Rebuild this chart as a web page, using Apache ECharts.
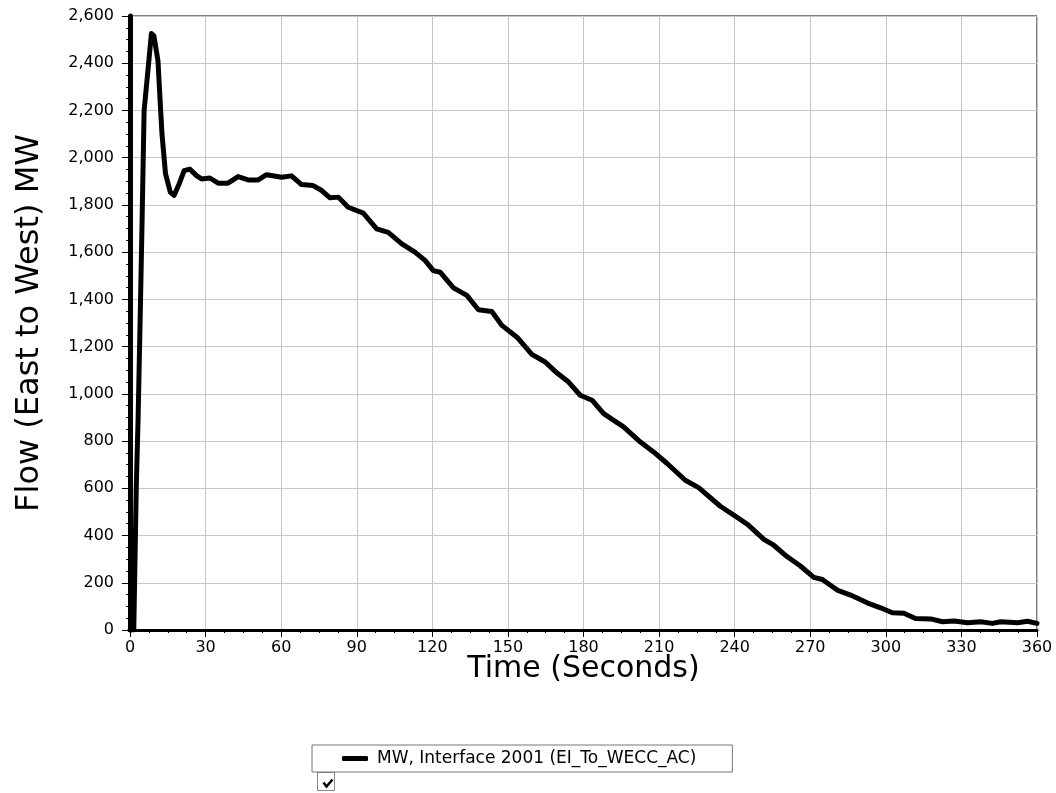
<!DOCTYPE html>
<html>
<head>
<meta charset="utf-8">
<script src="https://cdn.jsdelivr.net/npm/echarts@6/dist/echarts.min.js"></script>
<style>
  html, body { margin: 0; padding: 0; background: #fff; }
  #main { width: 1056px; height: 793px; }
</style>
</head>
<body>
<div id="main"></div>
<script>
// time in seconds, flow in MW
var times = [0, 1.5, 2.5, 3.2, 4.1, 4.8, 5.6, 8.5, 9.5, 11.1, 12.1, 12.7, 14.1, 16.0, 17.5, 19.5,
  21.5, 23.7, 26.4, 28.4, 31.7, 35, 38.9, 42.9, 46.9, 50.9, 54.2, 60.2, 64.1, 68.1, 72.7, 76.1,
  79.4, 82.7, 86.6, 92.6, 97.9, 102.5, 107.9, 113.1, 117.1, 120.4, 123.1, 128.4, 133.7, 138.3,
  143.6, 147.6, 153.6, 159.5, 164.8, 169.5, 174.1, 178.7, 183.4, 188, 195.9, 202.6, 207.8,
  213.2, 220.4, 225.7, 234.3, 241, 245, 251.6, 255.5, 260.9, 266.1, 271.4, 274.8, 280.7, 286,
  292.6, 297.9, 302.6, 307.2, 311.8, 317.8, 322.5, 327.1, 332.4, 337.7, 342.3, 345.6, 352.3,
  356.2, 360];
var flowMW = [0, 0, 613, 888, 1353, 1734, 2199, 2526, 2516, 2410, 2213, 2100, 1931, 1854, 1840, 1889,
  1945, 1952, 1924, 1910, 1914, 1892, 1892, 1920, 1906, 1906, 1928, 1917, 1923, 1886, 1882, 1861,
  1830, 1833, 1790, 1765, 1699, 1684, 1635, 1600, 1565, 1522, 1515, 1449, 1417, 1356,
  1349, 1290, 1240, 1167, 1135, 1088, 1050, 994, 973, 916, 860, 796, 754,
  705, 634, 603, 524, 477, 448, 384, 359, 310, 271, 223, 214, 169, 148,
  115, 94, 73, 71, 49, 47, 35, 38, 31, 35, 28, 35, 31,
  37, 28];
var seriesName = 'MW, Interface 2001 (EI_To_WECC_AC)';

var chart = echarts.init(document.getElementById('main'));
var font = 'DejaVu Sans';

var option = {
  backgroundColor: '#fff',
  animation: false,
  grid: {
    left: 130, right: 19, top: 16, bottom: 163,
    show: true, borderColor: '#000', borderWidth: 1
  },
  legend: {
    data: [seriesName],
    left: 312, top: 745,
    padding: [5, 36, 5, 30],
    borderColor: '#777', borderWidth: 1,
    icon: 'roundRect', itemWidth: 26, itemHeight: 5,
    selectedMode: false,
    textStyle: { fontFamily: font, fontSize: 17, color: '#000', padding: [0, 0, 0, 4] }
  },
  xAxis: {
    type: 'value', min: 0, max: 360, interval: 30,
    name: 'Time (Seconds)', nameLocation: 'middle', nameGap: 24,
    nameMoveOverlap: false,
    nameTextStyle: { fontFamily: font, fontSize: 30, color: '#000' },
    axisLine: { show: true, onZero: false, lineStyle: { color: '#000', width: 3 } },
    axisTick: { show: true, length: 7, lineStyle: { color: '#000' } },
    minorTick: { show: true, splitNumber: 4, length: 3, lineStyle: { color: '#000' } },
    axisLabel: { fontFamily: font, fontSize: 16, color: '#000', margin: 10 },
    splitLine: { show: true, lineStyle: { color: '#c8c8c8', width: 1 } }
  },
  yAxis: {
    type: 'value', min: 0, max: 2600, interval: 200,
    name: 'Flow (East to West) MW', nameLocation: 'middle', nameGap: 84,
    nameTextStyle: { fontFamily: font, fontSize: 32, color: '#000' },
    axisLine: { show: true, onZero: false, lineStyle: { color: '#000', width: 5 } },
    axisTick: { show: true, length: 8, lineStyle: { color: '#000' } },
    minorTick: { show: true, splitNumber: 4, length: 4, lineStyle: { color: '#000' } },
    axisLabel: {
      fontFamily: font, fontSize: 16, color: '#000', margin: 16,
      formatter: function (v) { return v.toLocaleString('en-US'); }
    },
    splitLine: { show: true, lineStyle: { color: '#c8c8c8', width: 1 } }
  },
  graphic: [
    { type: 'rect', left: 317, top: 772, shape: { width: 17, height: 18 },
      style: { fill: '#fff', stroke: '#888', lineWidth: 1 } },
    { type: 'polyline', left: 321, top: 777,
      shape: { points: [[0, 3], [3, 7], [9, 0]] },
      style: { stroke: '#000', lineWidth: 2.5, fill: null } }
  ],
  series: [{
    name: seriesName,
    type: 'line',
    data: times.map(function (t, i) { return [t, flowMW[i]]; }),
    showSymbol: false,
    symbol: 'none',
    lineStyle: { color: '#000', width: 5, join: 'round', cap: 'round' },
    itemStyle: { color: '#000' }
  }]
};

chart.setOption(option);
window.onresize = chart.resize;
</script>
</body>
</html>
